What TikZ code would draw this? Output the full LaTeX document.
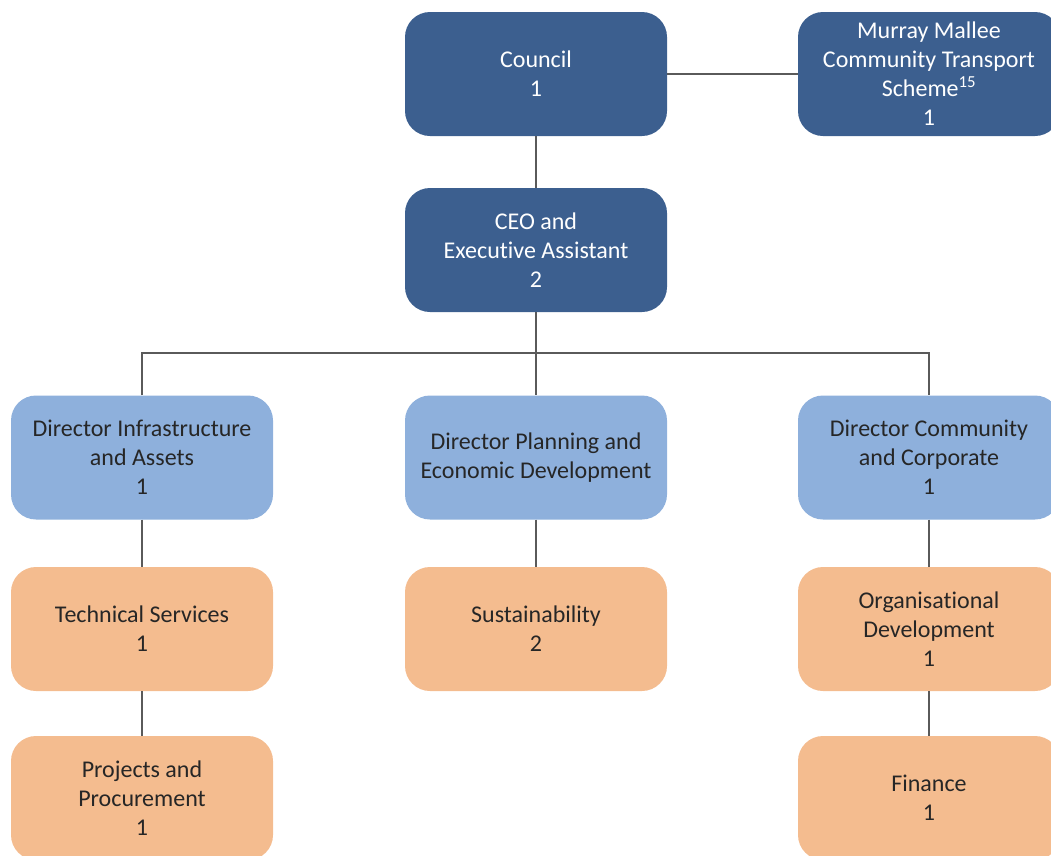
\documentclass[tikz,border=0pt]{standalone}
\usepackage{fontspec}
\setmainfont[Ligatures=NoCommon]{Carlito}
\definecolor{dblue}{HTML}{3C5F8F}
\definecolor{lblue}{HTML}{8EB0DC}
\definecolor{orng}{HTML}{F4BC8F}
\definecolor{txt}{HTML}{262626}
\definecolor{lne}{HTML}{5A5A5A}
\begin{document}
\begin{tikzpicture}[x=1pt,y=-1pt,
  box/.style={rounded corners=25pt,minimum width=262pt,minimum height=124pt,align=center,inner sep=0pt,
    font=\fontsize{24}{29}\selectfont},
  top/.style={box,fill=dblue,text=white},
  dir/.style={box,fill=lblue,text=txt},
  unit/.style={box,fill=orng,text=txt},
  conn/.style={draw=lne,line width=1.3pt}]
\useasboundingbox (0,0) rectangle (1051,855);
\clip (0,0) rectangle (1051,855);
\node[top] (council) at (536,74) {Council\\1};
\node[top] (mm) at (929,74) {Murray Mallee\\Community Transport\\Scheme\textsuperscript{15}\\1};
\node[top] (ceo) at (536,250) {CEO and\\Executive Assistant\\2};
\node[dir] (dia) at (142,457.5) {Director Infrastructure\\and Assets\\1};
\node[dir] (dpe) at (536,457.5) {Director Planning and\\Economic Development};
\node[dir] (dcc) at (929,457.5) {Director Community\\and Corporate\\1};
\node[unit] (ts) at (142,629) {Technical Services\\1};
\node[unit] (sus) at (536,629) {Sustainability\\2};
\node[unit] (od) at (929,629) {Organisational\\Development\\1};
\node[unit] (pp) at (142,798) {Projects and\\Procurement\\1};
\node[unit] (fin) at (929,798) {Finance\\1};
\coordinate (bus) at (536,353);
\draw[conn] (council) -- (mm);
\draw[conn] (council) -- (ceo);
\draw[conn] (ceo) -- (dpe);
\draw[conn] (dia.north) |- (bus) -| (dcc.north);
\draw[conn] (dia) -- (ts);
\draw[conn] (ts) -- (pp);
\draw[conn] (dpe) -- (sus);
\draw[conn] (dcc) -- (od);
\draw[conn] (od) -- (fin);
\end{tikzpicture}
\end{document}
